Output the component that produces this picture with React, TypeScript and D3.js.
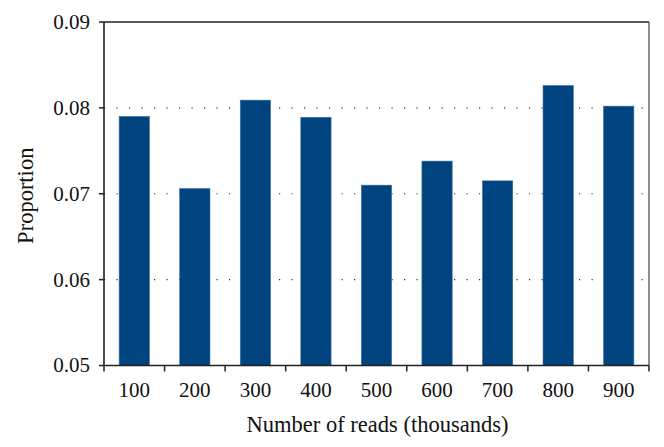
import React from "react";
import * as d3 from "d3";

const categories = ["100", "200", "300", "400", "500", "600", "700", "800", "900"];
const proportions = [0.079, 0.0706, 0.0809, 0.0789, 0.071, 0.0738, 0.0715, 0.0826, 0.0802];
const yTicks = [0.05, 0.06, 0.07, 0.08, 0.09];
const gridTicks = [0.06, 0.07, 0.08];

const W = 664;
const H = 447;
const M = { left: 104, right: 15, top: 22, bottom: 81.5 };
const FONT = "'Liberation Serif', 'DejaVu Serif', serif";

export default function App() {
  const x = d3
    .scaleBand<string>()
    .domain(categories)
    .range([M.left, W - M.right])
    .paddingInner(0.5)
    .paddingOuter(0.25);
  const xOuter = d3.scaleBand<string>().domain(categories).range([M.left, W - M.right]);
  const y = d3.scaleLinear().domain([0.05, 0.09]).range([H - M.bottom, M.top]);
  const x0 = M.left;
  const x1 = W - M.right;
  const y0 = y(0.05);
  const yTop = y(0.09);
  const fmt = d3.format(".2f");

  return (
    <svg
      width={W}
      height={H}
      style={{ position: "absolute", left: 0, top: 0, background: "#fff" }}
      fontFamily={FONT}
    >
      {gridTicks.map((t) => (
        <line
          key={t}
          x1={x0}
          x2={x1}
          y1={y(t)}
          y2={y(t)}
          stroke="#333"
          strokeWidth={1.2}
          strokeDasharray="1.2 11.3"
        />
      ))}
      {categories.map((c, i) => (
        <rect
          key={c}
          x={x(c)}
          y={y(proportions[i])}
          width={x.bandwidth()}
          height={y0 - y(proportions[i])}
          fill="#00447f"
          stroke="#3a6ea3"
          strokeWidth={0.6}
        />
      ))}
      {/* frame */}
      <line x1={x0} x2={x1} y1={yTop} y2={yTop} stroke="#222" strokeWidth={1.5} />
      <line x1={x1} x2={x1} y1={yTop} y2={y0} stroke="#444" strokeWidth={1.2} />
      <line x1={x0} x2={x0} y1={yTop} y2={y0} stroke="#222" strokeWidth={1.6} />
      <line x1={x0} x2={x1} y1={y0} y2={y0} stroke="#222" strokeWidth={1.6} />
      {yTicks.map((t) => (
        <g key={t}>
          <line x1={x0 - 5} x2={x0} y1={y(t)} y2={y(t)} stroke="#222" strokeWidth={1.5} />
          <text
            x={x0 - 14}
            y={y(t)}
            dy="0.33em"
            textAnchor="end"
            fontSize={21}
            fill="#111"
          >
            {fmt(t)}
          </text>
        </g>
      ))}
      {categories.map((c) => (
        <text
          key={c}
          x={(x(c) as number) + x.bandwidth() / 2}
          y={397}
          textAnchor="middle"
          fontSize={21}
          fill="#111"
        >
          {c}
        </text>
      ))}
      {[...categories.map((c) => xOuter(c) as number), x1].map((tx, i) => (
        <line key={i} x1={tx} x2={tx} y1={y0} y2={y0 + 6} stroke="#222" strokeWidth={1.5} />
      ))}
      <text x={(x0 + x1) / 2 + 1} y={432} textAnchor="middle" fontSize={22.5} fill="#111">
        Number of reads (thousands)
      </text>
      <text
        transform={`translate(33, ${(yTop + y0) / 2 + 2}) rotate(-90)`}
        textAnchor="middle"
        fontSize={22.5}
        fill="#111"
      >
        Proportion
      </text>
    </svg>
  );
}
